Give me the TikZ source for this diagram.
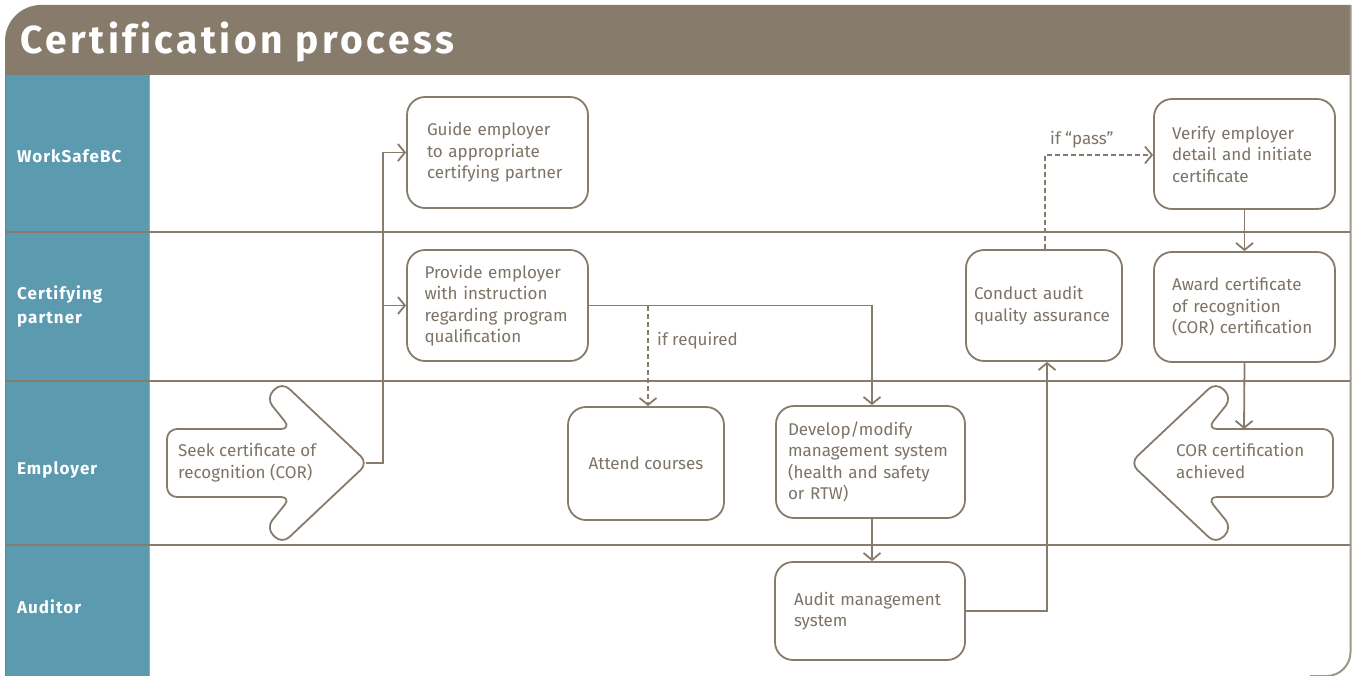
\documentclass[tikz,border=0pt]{standalone}
\usepackage{fontspec}
\setmainfont{Fira Sans}
\newfontfamily\titlefont[LetterSpace=9,Ligatures=NoCommon]{Fira Sans}
\newfontfamily\lanefont[LetterSpace=6]{Fira Sans}
\usetikzlibrary{arrows.meta}
\definecolor{brn}{HTML}{877C6C}
\definecolor{txt}{HTML}{7D7366}
\definecolor{lanec}{HTML}{5B9AAF}
\begin{document}
\begin{tikzpicture}[x=1pt,y=-1pt,
  box/.style={draw=brn, line width=1.8pt, rounded corners=18pt, fill=white, text=txt,
    font=\fontsize{17}{21.5}\selectfont, align=left, inner ysep=0pt},
  arr/.style={draw=brn, line width=1.8pt, -{Straight Barb[length=7pt,width=17pt,line width=1.8pt]}},
  darr/.style={arr, dashed, dash pattern=on 5pt off 3pt},
  lbl/.style={text=white, font=\lanefont\bfseries\fontsize{17}{24}\selectfont, align=left, anchor=west, inner sep=0pt},
  note/.style={text=txt, font=\fontsize{17}{20}\selectfont, inner sep=0pt},
  bigarrow/.style={draw=brn, line width=1.8pt, fill=white, rounded corners=10pt},
  sep/.style={draw=brn, line width=1.6pt}
]
\useasboundingbox (0,0) rectangle (1356,676);
% header
\fill[brn] (5,75) [rounded corners=36pt] -- (5,5) [sharp corners] -- (1350,5) -- (1350,75) -- cycle;
\node[text=white, font=\titlefont\bfseries\fontsize{39}{44}\selectfont, anchor=base west, inner sep=0pt] (title) at (20,54) {Certification process};
% lane column
\fill[lanec] (6,75) rectangle (149,676);
\draw[brn, line width=1.6pt] (5.5,40) -- (5.5,676);
\draw[brn!70, line width=0.8pt] (149,75) -- (149,676);
\draw[brn!80, line width=2pt] (1350.5,5) [rounded corners=24pt] -- (1350.5,676) -- (1310,676);
% separators
\draw[sep] (6,232) -- (1350,232);
\draw[sep] (6,381) -- (1350,381);
\draw[sep] (6,545) -- (1350,545);
% lane labels
\node[lbl] (l1) at (17,156) {WorkSafeBC};
\node[lbl] (l2) at (17,306) {Certifying\\partner};
\node[lbl] (l3) at (17,470) {Employer};
\node[lbl] (l4) at (17,607) {Auditor};

% seek arrow (right)
\draw[bigarrow] (167,429) -- (291,429) -- (266,398) -- (282,382) -- (368,463) -- (282,544) -- (266,528) -- (291,497) -- (167,497) -- cycle;
\coordinate (seektip) at (366,463);
\node[note, align=left, anchor=west, font=\fontsize{17}{22}\selectfont] (seek) at (178,463) {Seek certificate of\\recognition (COR)};
% COR arrow (left)
\draw[bigarrow] (1333,429) -- (1207,429) -- (1232,398) -- (1216,382) -- (1130,463) -- (1216,544) -- (1232,528) -- (1207,497) -- (1333,497) -- cycle;
\coordinate (cortop) at (1244,429);
\node[note, align=left, anchor=west, font=\fontsize{17}{22}\selectfont] (cor) at (1176,461) {COR certification\\achieved};

% boxes
\node[box, text width=141pt, inner xsep=20pt, minimum height=111pt] (guide) at (497.5,152.5) {Guide employer\\to appropriate\\certifying partner};
\node[box, text width=146pt, inner xsep=17.5pt, minimum height=111pt] (provide) at (497.5,305.5) {Provide employer\\with instruction\\regarding program\\qualification};
\node[box, align=center, minimum width=156pt, minimum height=113pt] (attend) at (646,463.5) {Attend courses};
\node[box, text width=165pt, inner xsep=12pt, minimum height=112pt] (develop) at (870.5,462) {Develop/modify\\management system\\(health and safety\\or RTW)};
\node[box, text width=166pt, inner xsep=12pt, minimum height=98pt] (audit) at (870,611) {\hspace*{7pt}Audit management\\\hspace*{7pt}system};
\node[box, text width=140pt, inner xsep=8pt, minimum height=111pt] (conduct) at (1044,305.5) {Conduct audit\\quality assurance};
\node[box, text width=145pt, inner xsep=18pt, minimum height=110pt] (verify) at (1244.5,154) {Verify employer\\detail and initiate\\certificate};
\node[box, text width=145pt, inner xsep=18pt, minimum height=110pt] (award) at (1244.5,307) {Award certificate\\of recognition\\(COR) certification};

% connectors
\coordinate (j1) at (383,463);
\draw[arr] (seektip) -- (j1) |- (guide.west);
\draw[arr] (j1) |- (provide.west);
\coordinate (j2) at (872,305.5);
\draw[arr] (provide.east) -- (j2) -- (j2 |- develop.north);
\coordinate (j3) at (648,305.5);
\draw[darr] (j3) -- (j3 |- attend.north);
\node[note, anchor=west] (ifreq) at (657,341) {if required};
\draw[arr] (develop.south -| j2) -- (j2 |- audit.north);
\coordinate (j4) at (1047,611);
\draw[arr] (audit.east |- j4) -- (j4) -- (j4 |- conduct.south);
\coordinate (j5) at (1045,155);
\draw[darr] (j5 |- conduct.north) -- (j5) -- (verify.west |- j5);
\node[note, anchor=west] (ifpass) at (1050,140) {if “pass”};
\draw[arr] (verify.south) -- (award.north);
\draw[arr] (award.south) -- (cortop);
\end{tikzpicture}
\end{document}
